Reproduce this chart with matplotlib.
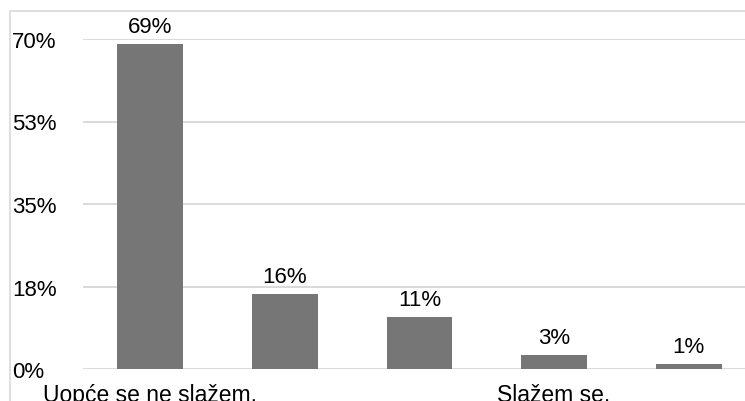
import matplotlib
matplotlib.use("Agg")
import matplotlib.pyplot as plt
from matplotlib.patches import Rectangle

plt.rcParams["font.family"] = ["Liberation Sans", "DejaVu Sans"]

categories = ["Uopće se ne slažem.", "", "", "Slažem se.", ""]
values = [69, 16, 11, 3, 1]
value_labels = ["69%", "16%", "11%", "3%", "1%"]
y_ticks = [0, 17.5, 35, 52.5, 70]
y_tick_labels = ["0%", "18%", "35%", "53%", "70%"]

W, H = 745, 402
fig = plt.figure(figsize=(W / 100, H / 100), dpi=100)

# outer light frame (right and bottom fall outside the picture)
fig.patches.append(Rectangle((10 / W, -0.1), 1.1, 1 - 12 / H + 0.1,
                             transform=fig.transFigure, fill=False,
                             edgecolor="#d9d9d9", linewidth=1.2))

left, right, bottom, top = 83, 756, 370, 40
ax = fig.add_axes([left / W, 1 - bottom / H, (right - left) / W, (bottom - top) / H])

x = range(len(values))
bars = ax.bar(x, values, width=0.49, color="#767676", zorder=3)
ax.bar_label(bars, labels=value_labels, padding=5, fontsize=16)

ax.set_xlim(-0.5, len(values) - 0.5)
ax.set_ylim(0, 70)
ax.set_yticks(y_ticks, y_tick_labels, fontsize=16)
for lbl in ax.get_yticklabels():
    lbl.set_ha("left")
ax.set_xticks(list(x), categories, fontsize=16.5)
ax.tick_params(axis="y", length=0, pad=51)
ax.tick_params(axis="x", length=0, pad=10)

ax.grid(axis="y", color="#d9d9d9", linewidth=1.4, zorder=0)
ax.set_axisbelow(True)
for s in ax.spines.values():
    s.set_visible(False)

fig.savefig("out.png", dpi=100)
